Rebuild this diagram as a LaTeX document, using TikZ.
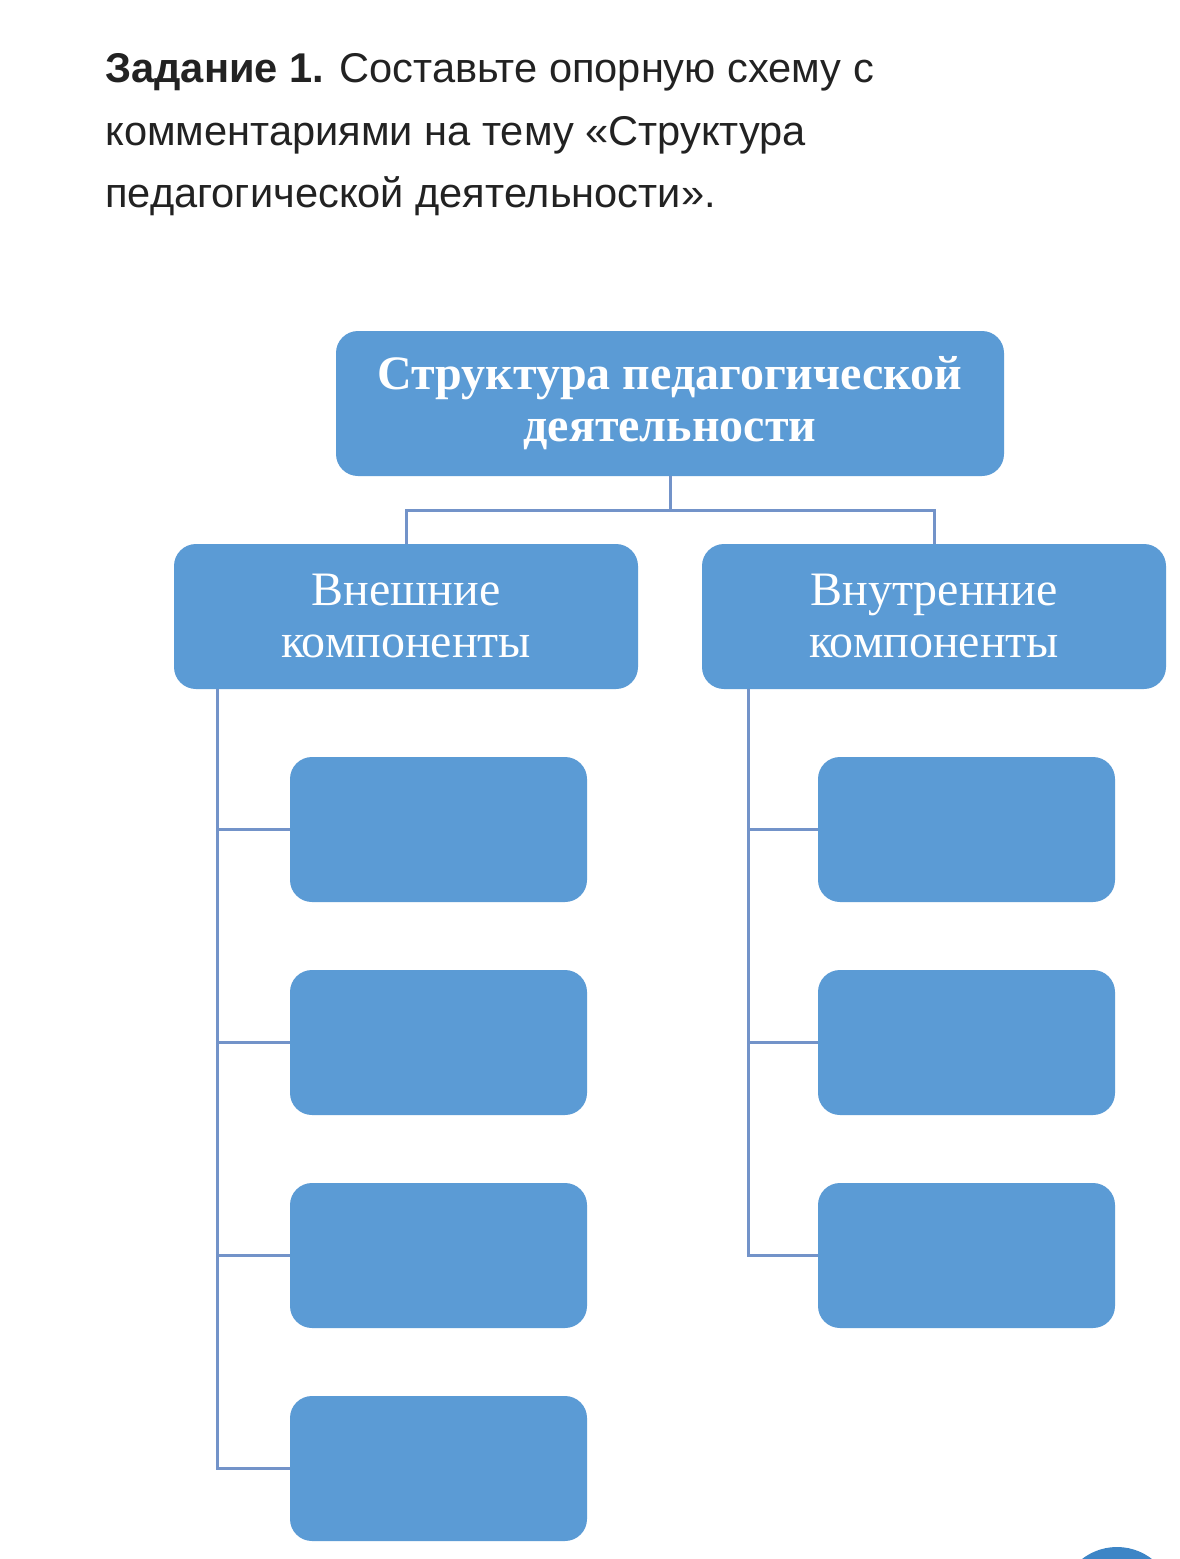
\documentclass[tikz,border=0pt]{standalone}
\usepackage{fontspec}
\setmainfont{Liberation Serif}
\newfontfamily\uifont{Liberation Sans}
\definecolor{boxblue}{HTML}{5B9BD5}
\definecolor{linkblue}{HTML}{7393C9}
\definecolor{fabblue}{HTML}{3D85C6}
\definecolor{txtgray}{HTML}{222222}
\begin{document}
\begin{tikzpicture}[x=0.5pt,y=-0.5pt,
  bluebox/.style={draw=none,fill=boxblue,rounded corners=11pt,minimum height=72.5pt,
    inner sep=0pt,text=white,align=center,font=\fontsize{24}{26}\selectfont},
  headline/.style={anchor=base west,inner sep=0pt,text=txtgray,font=\uifont\fontsize{20.8}{24}\selectfont},
  link/.style={draw=linkblue,line width=1.5pt}]
\useasboundingbox (0,0) rectangle (1179,1559);
\fill[white] (0,0) rectangle (1179,1559);
% heading
\node[headline] (h1) at (105,82) {\textbf{Задание 1.} Составьте опорную схему с};
\node[headline] (h2) at (105,145) {комментариями на тему «Структура};
\node[headline] (h3) at (105,207) {педагогической деятельности».};
% boxes
\node[bluebox,minimum width=334pt,font=\bfseries\fontsize{24}{26}\selectfont] (top) at (670,403.5) {Структура педагогической\\деятельности};
\node[bluebox,minimum width=232pt] (ml) at (406,616.5) {Внешние\\компоненты};
\node[bluebox,minimum width=232pt] (mr) at (934,616.5) {Внутренние\\компоненты};
\foreach \i/\yy in {1/829.5,2/1042.5,3/1255.5,4/1468.5}{
  \node[bluebox,minimum width=148.5pt] (l\i) at (438.5,\yy) {};
}
\foreach \i/\yy in {1/829.5,2/1042.5,3/1255.5}{
  \node[bluebox,minimum width=148.5pt] (r\i) at (966.5,\yy) {};
}
% connectors
\coordinate (tj) at (670,510);
\draw[link] (top.south) -- (tj);
\draw[link] (tj) -| (ml.north);
\draw[link] (tj) -| (mr.north);
\coordinate (ls) at (217,689);
\coordinate (rs) at (748,689);
\draw[link] (ls) |- (l4.west);
\draw[link] (l1.west) -- (l1.west -| ls);
\draw[link] (l2.west) -- (l2.west -| ls);
\draw[link] (l3.west) -- (l3.west -| ls);
\draw[link] (rs) |- (r3.west);
\draw[link] (r1.west) -- (r1.west -| rs);
\draw[link] (r2.west) -- (r2.west -| rs);
% partial floating button
\begin{scope}
\clip (0,0) rectangle (1179,1559);
\fill[fabblue] (1117,1604) circle[radius=28.5pt];
\end{scope}
\end{tikzpicture}
\end{document}
